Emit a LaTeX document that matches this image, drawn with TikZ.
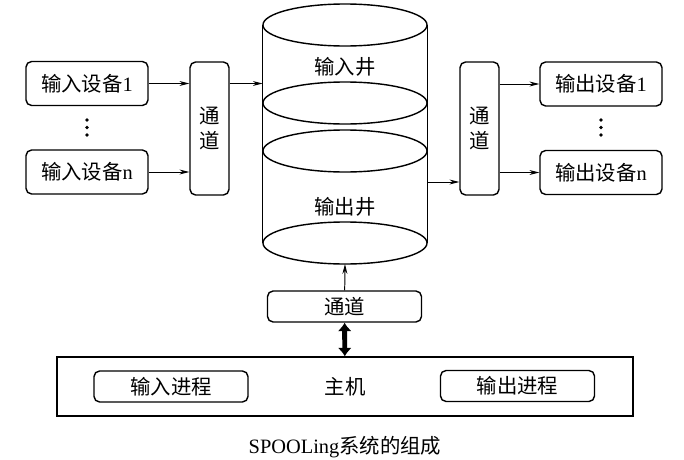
\documentclass[tikz,border=0pt]{standalone}
\usepackage{fontspec}
\setmainfont{Liberation Serif}
\newfontfamily\cjk{Noto Sans CJK SC}
\usetikzlibrary{arrows.meta, positioning}
\tikzstyle{device} = [rectangle, rounded corners=4pt, draw=black, line width=1pt, minimum width=3.05cm, minimum height=1.1cm, text centered, font=\fontsize{14.5}{17}\selectfont]
\tikzstyle{channel} = [rectangle, rounded corners=4pt, draw=black, line width=1pt, minimum width=0.975cm, minimum height=3.325cm, align=center, font=\fontsize{14.5}{18}\selectfont\cjk]
\tikzstyle{proc} = [rectangle, rounded corners=4pt, draw=black, line width=1pt, minimum width=3.85cm, minimum height=0.775cm, text centered, font=\fontsize{14.5}{17}\selectfont\cjk]
\tikzstyle{host} = [rectangle, draw=black, line width=1pt, minimum width=14.4cm, minimum height=1.475cm, text centered, font=\fontsize{14.5}{17}\selectfont\cjk]
\tikzstyle{labelnode} = [font=\fontsize{14.5}{17}\selectfont\cjk]
\tikzstyle{arrow} = [line width=0.7pt, -{Stealth[length=7pt, width=3.5pt]}]
\tikzstyle{bigarrow} = [line width=3.5pt, {Latex[length=6pt, width=10pt]}-{Latex[length=6pt, width=10pt]}]

\begin{document}
\begin{tikzpicture}[x=0.025cm, y=-0.025cm]
\useasboundingbox (0,0) rectangle (684,460);

% --- Input side ---
\node (devIn1) [device] at (87,83.5) {{\cjk 输入设备}1};
\node (devInN) [device] at (87,172) {{\cjk 输入设备}n};
\foreach \d in {120,127.5,135}
  \fill (87,\d) circle [radius=1.3pt];
\node (chanIn) [channel] at (209.5,128.5) {通\\道};

% --- Wells (cylinder) ---
\node (well) [minimum width=4.1cm, minimum height=5.45cm, inner sep=0pt] at (345,134) {};
\draw[line width=1pt] (well.north west) -- (well.south west);
\draw[line width=1pt] (well.north east) -- (well.south east);
\foreach \h in {25,103,151,243}
  \draw[line width=1pt] (345,\h) ellipse [x radius=2.05cm, y radius=0.525cm];
\node (inWell) [labelnode] at (345,67) {输入井};
\node (outWell) [labelnode] at (345,207) {输出井};
\coordinate (wellOut) at (427,182);
\coordinate (wellBot) at (345,264);

% --- Output side ---
\node (chanOut) [channel] at (479.5,128.5) {通\\道};
\node (devOut1) [device] at (601,84) {{\cjk 输出设备}1};
\node (devOutN) [device] at (601,172.5) {{\cjk 输出设备}n};
\foreach \d in {120,127.5,135}
  \fill (601,\d) circle [radius=1.3pt];

% --- Host ---
\node (chanBot) [proc] at (344.5,306.5) {通道};
\node (host) [host] at (345,386.5) {主机};
\node (procIn) [proc] at (171,386.5) {输入进程};
\node (procOut) [proc] at (517.5,386) {输出进程};

\node (caption) [font=\fontsize{14.5}{17}\selectfont] at (345,447) {SPOOLing{\cjk 系统的组成}};

% --- Connections ---
\draw [arrow] (devIn1) -- (chanIn.west |- devIn1);
\draw [arrow] (devInN) -- (chanIn.west |- devInN);
\draw [arrow] (chanIn.east |- devIn1) -- (well.west |- devIn1);
\draw [arrow] (wellOut) -- (chanOut.west |- wellOut);
\draw [arrow] (chanOut.east |- devOut1) -- (devOut1);
\draw [arrow] (chanOut.east |- devOutN) -- (devOutN);
\draw [arrow] (chanBot) -- (wellBot);
\draw [bigarrow] (chanBot) -- (host);

\end{tikzpicture}
\end{document}
